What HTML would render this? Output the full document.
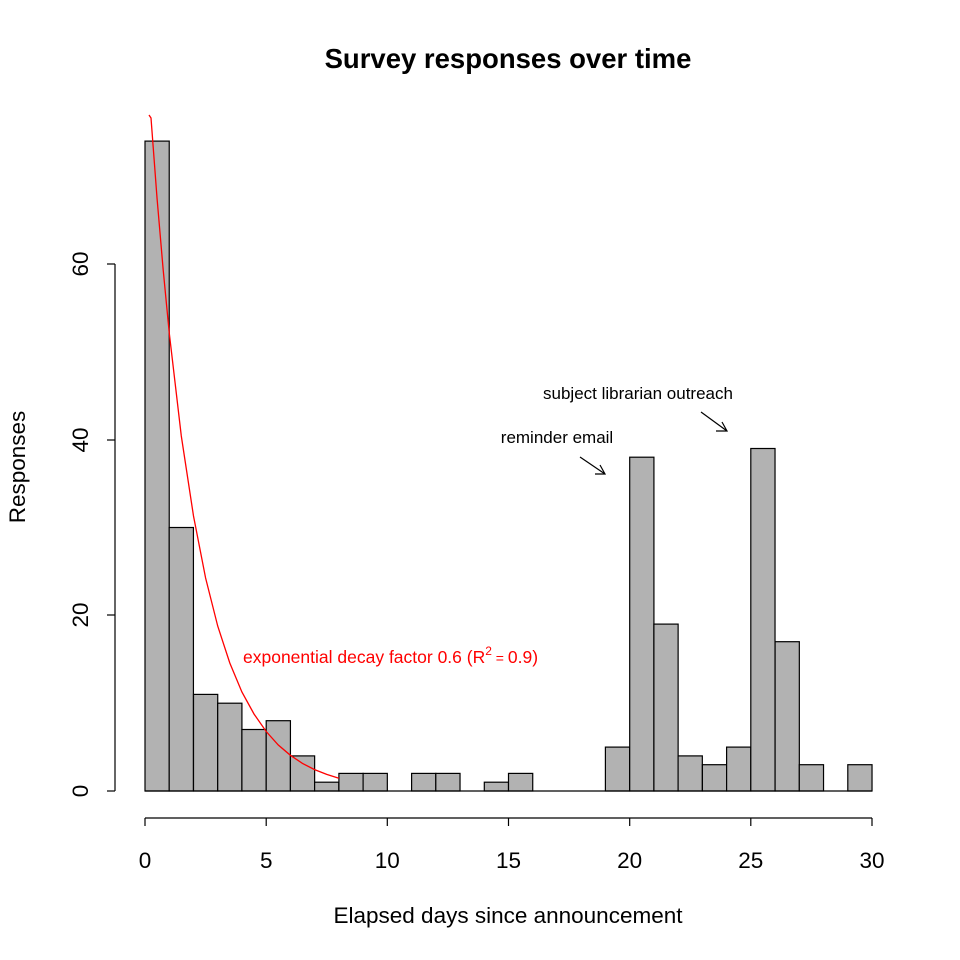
<!DOCTYPE html>
<html><head><meta charset="utf-8"><style>body{margin:0;background:#fff}svg{display:block}text{font-family:"Liberation Sans",sans-serif}</style></head><body>
<svg width="960" height="960" xmlns="http://www.w3.org/2000/svg">
<text x="508" y="68" font-size="27.5" font-weight="bold" text-anchor="middle">Survey responses over time</text>
<g fill="#b2b2b2" stroke="#000" stroke-width="1.2">
<rect x="145" y="141.1" width="24.23" height="649.9"/>
<rect x="169.2" y="527.5" width="24.23" height="263.5"/>
<rect x="193.5" y="694.4" width="24.23" height="96.6"/>
<rect x="217.7" y="703.2" width="24.23" height="87.8"/>
<rect x="241.9" y="729.5" width="24.23" height="61.5"/>
<rect x="266.2" y="720.7" width="24.23" height="70.3"/>
<rect x="290.4" y="755.9" width="24.23" height="35.1"/>
<rect x="314.6" y="782.2" width="24.23" height="8.8"/>
<rect x="338.9" y="773.4" width="24.23" height="17.6"/>
<rect x="363.1" y="773.4" width="24.23" height="17.6"/>
<rect x="411.6" y="773.4" width="24.23" height="17.6"/>
<rect x="435.8" y="773.4" width="24.23" height="17.6"/>
<rect x="484.3" y="782.2" width="24.23" height="8.8"/>
<rect x="508.5" y="773.4" width="24.23" height="17.6"/>
<rect x="605.4" y="747.1" width="24.23" height="43.9"/>
<rect x="629.7" y="457.2" width="24.23" height="333.8"/>
<rect x="653.9" y="624.1" width="24.23" height="166.9"/>
<rect x="678.1" y="755.9" width="24.23" height="35.1"/>
<rect x="702.4" y="764.7" width="24.23" height="26.3"/>
<rect x="726.6" y="747.1" width="24.23" height="43.9"/>
<rect x="750.8" y="448.5" width="24.23" height="342.5"/>
<rect x="775.1" y="641.7" width="24.23" height="149.3"/>
<rect x="799.3" y="764.7" width="24.23" height="26.3"/>
<rect x="847.8" y="764.7" width="24.23" height="26.3"/>
</g>
<line x1="145" y1="791" x2="872" y2="791" stroke="#000" stroke-width="1.2"/>
<polyline fill="none" stroke="#f00" stroke-width="1.3" points="149,115 151,118 157.1,199 163.2,270 169.2,332.5 181.3,436 193.5,516 205.6,578 217.7,626 229.8,663 241.9,692 254,714 266.2,731.5 278.3,745 290.4,755.3 302.5,763.4 314.6,769.6 326.7,774.4 338.9,778.2"/>
<text x="243" y="663" font-size="17.5" fill="#f00">exponential decay factor 0.6 (R<tspan font-size="12" dy="-8">2</tspan><tspan dy="8" font-size="14"> = </tspan>0.9)</text>
<g stroke="#000" stroke-width="1.2" fill="none">
<line x1="115" y1="264" x2="115" y2="791"/>
<line x1="107" y1="791" x2="115" y2="791"/><line x1="107" y1="615" x2="115" y2="615"/><line x1="107" y1="440" x2="115" y2="440"/><line x1="107" y1="264" x2="115" y2="264"/>
<line x1="145" y1="818" x2="872" y2="818"/>
<line x1="145" y1="818" x2="145" y2="826"/><line x1="266.2" y1="818" x2="266.2" y2="826"/><line x1="387.3" y1="818" x2="387.3" y2="826"/><line x1="508.5" y1="818" x2="508.5" y2="826"/><line x1="629.7" y1="818" x2="629.7" y2="826"/><line x1="750.8" y1="818" x2="750.8" y2="826"/><line x1="872" y1="818" x2="872" y2="826"/>
<line x1="580" y1="457" x2="605" y2="474"/><polyline points="595,474 605,474 600,465"/>
<line x1="701" y1="412" x2="727" y2="431"/><polyline points="716,431 727,431 722,422"/>
</g>
<g font-size="22.5" text-anchor="middle">
<text x="145" y="868">0</text><text x="266.2" y="868">5</text><text x="387.3" y="868">10</text><text x="508.5" y="868">15</text><text x="629.7" y="868">20</text><text x="750.8" y="868">25</text><text x="872" y="868">30</text>
<text transform="translate(88,791) rotate(-90)">0</text>
<text transform="translate(88,615) rotate(-90)">20</text>
<text transform="translate(88,440) rotate(-90)">40</text>
<text transform="translate(88,264) rotate(-90)">60</text>
<text x="508" y="923">Elapsed days since announcement</text>
<text transform="translate(25,467) rotate(-90)">Responses</text>
</g>
<text x="557" y="443" font-size="17" text-anchor="middle">reminder email</text>
<text x="638" y="399" font-size="17" text-anchor="middle">subject librarian outreach</text>
</svg>
</body></html>
